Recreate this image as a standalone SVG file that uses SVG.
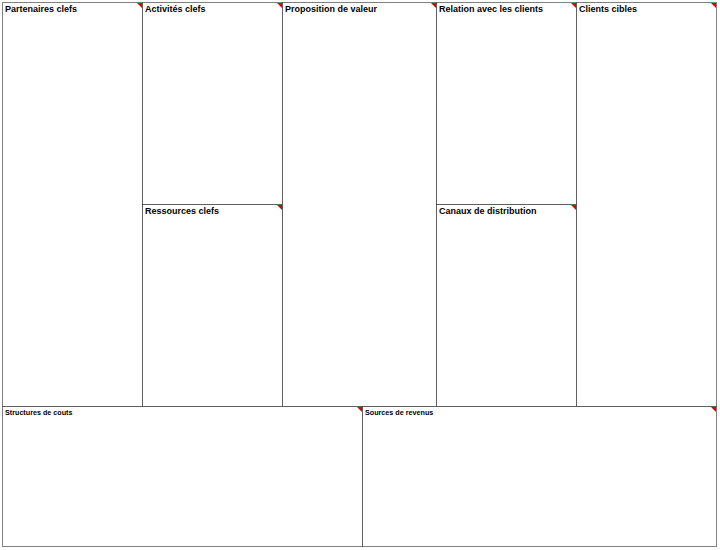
<svg xmlns="http://www.w3.org/2000/svg" width="720" height="550" viewBox="0 0 720 550">
<defs>
<style>
.cell{fill:#fff;stroke:#000;stroke-width:1;stroke-dasharray:1 1}
.t{font-family:"Liberation Sans",Arial,sans-serif;font-weight:bold;font-size:9px;fill:#000}
.s{font-family:"Liberation Sans",Arial,sans-serif;font-weight:bold;font-size:7.2px;fill:#000}
.tri{fill:#e00000}
</style>
</defs>
<rect x="0" y="0" width="720" height="550" fill="#fff"/>
<g id="partenaires"><rect class="cell" x="2.5" y="2.5" width="140" height="404"/><polygon class="tri" points="137,3 142,3 142,8"/><text class="t" x="5" y="12">Partenaires clefs</text></g>
<g id="activites"><rect class="cell" x="142.5" y="2.5" width="140" height="202"/><polygon class="tri" points="277,3 282,3 282,8"/><text class="t" x="145" y="12">Activités clefs</text></g>
<g id="ressources"><rect class="cell" x="142.5" y="204.5" width="140" height="202"/><polygon class="tri" points="277,205 282,205 282,210"/><text class="t" x="145" y="214">Ressources clefs</text></g>
<g id="proposition"><rect class="cell" x="282.5" y="2.5" width="154" height="404"/><polygon class="tri" points="431,3 436,3 436,8"/><text class="t" x="285" y="12">Proposition de valeur</text></g>
<g id="relation"><rect class="cell" x="436.5" y="2.5" width="140" height="202"/><polygon class="tri" points="571,3 576,3 576,8"/><text class="t" x="439" y="12">Relation avec les clients</text></g>
<g id="canaux"><rect class="cell" x="436.5" y="204.5" width="140" height="202"/><polygon class="tri" points="571,205 576,205 576,210"/><text class="t" x="439" y="214">Canaux de distribution</text></g>
<g id="clients"><rect class="cell" x="576.5" y="2.5" width="140" height="404"/><polygon class="tri" points="711,3 716,3 716,8"/><text class="t" x="579" y="12">Clients cibles</text></g>
<g id="couts"><rect class="cell" x="2.5" y="406.5" width="360" height="140"/><polygon class="tri" points="357,407 362,407 362,412"/><text class="s" x="5" y="415">Structures de couts</text></g>
<g id="revenus"><rect class="cell" x="362.5" y="406.5" width="354" height="140"/><polygon class="tri" points="711,407 716,407 716,412"/><text class="s" x="365" y="415">Sources de revenus</text></g>
<g id="connectors"></g>
</svg>
